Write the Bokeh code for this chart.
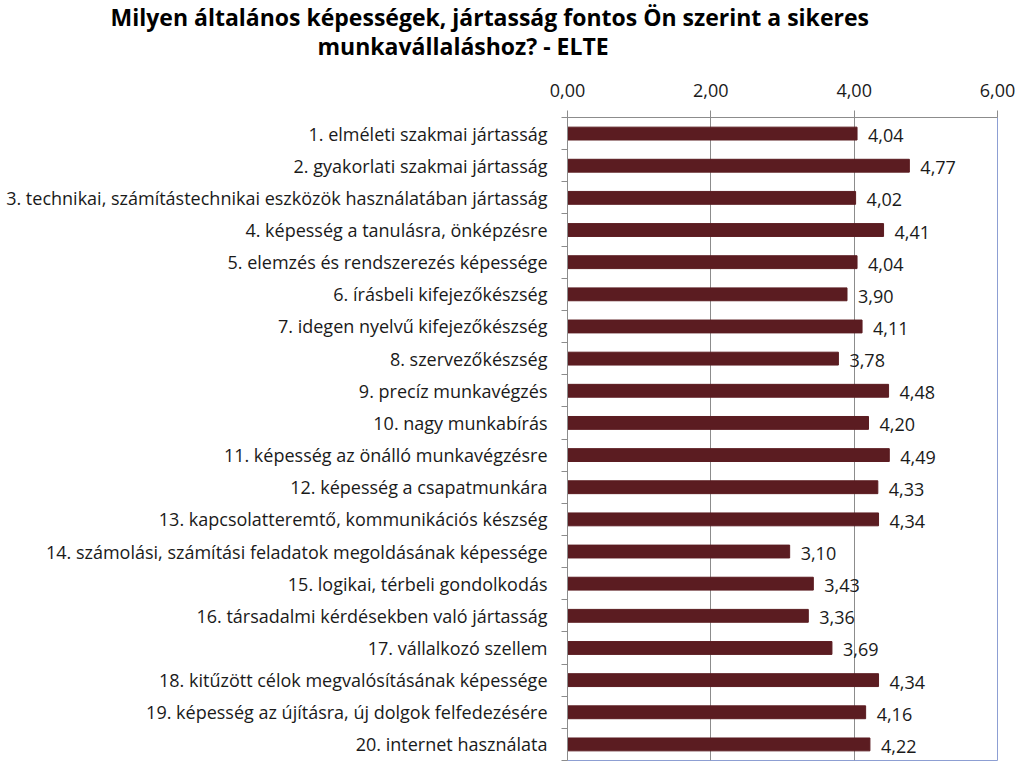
from bokeh.plotting import figure
from bokeh.models import Range1d, FixedTicker, LinearAxis, Title, ColumnDataSource
from bokeh.core.properties import value
from bokeh.embed import file_html
from bokeh.resources import INLINE

title_line1 = "Milyen általános  képességek, jártasság fontos Ön szerint a sikeres"
title_line2 = "munkavállaláshoz?  - ELTE"

categories = [
    "1. elméleti szakmai jártasság",
    "2. gyakorlati szakmai jártasság",
    "3. technikai, számítástechnikai eszközök használatában jártasság",
    "4. képesség a tanulásra, önképzésre",
    "5. elemzés és rendszerezés képessége",
    "6. írásbeli kifejezőkészség",
    "7. idegen nyelvű kifejezőkészség",
    "8. szervezőkészség",
    "9. precíz munkavégzés",
    "10. nagy munkabírás",
    "11. képesség az önálló munkavégzésre",
    "12. képesség a csapatmunkára",
    "13. kapcsolatteremtő, kommunikációs készség",
    "14. számolási, számítási feladatok megoldásának képessége",
    "15. logikai, térbeli gondolkodás",
    "16. társadalmi kérdésekben való jártasság",
    "17. vállalkozó szellem",
    "18. kitűzött célok megvalósításának képessége",
    "19. képesség az újításra, új dolgok felfedezésére",
    "20. internet használata",
]
values = [4.04, 4.77, 4.02, 4.41, 4.04, 3.90, 4.11, 3.78, 4.48, 4.20,
          4.49, 4.33, 4.34, 3.10, 3.43, 3.36, 3.69, 4.34, 4.16, 4.22]
x_ticks = [0, 2, 4, 6]
x_tick_labels = ["0,00", "2,00", "4,00", "6,00"]

FONT = "Open Sans"
BAR = "#5b1c21"
TXT = "#1a1a1a"

n = len(categories)
pos = list(range(1, n + 1))
src = ColumnDataSource(dict(
    y=pos,
    v=values,
    lab=[f"{v:.2f}".replace(".", ",") for v in values],
))

p = figure(width=1024, height=769, output_backend="svg", toolbar_location=None,
           x_range=Range1d(0, 6), y_range=Range1d(n + 0.5, 0.5),
           x_axis_location=None, y_axis_location=None,
           min_border_left=567, min_border_right=27,
           min_border_top=117, min_border_bottom=9)
p.background_fill_color = "white"
p.border_fill_color = "white"
p.outline_line_color = "#8d9fd3"
p.outline_line_width = 1

# gridlines
p.xgrid.ticker = FixedTicker(ticks=x_ticks)
p.xgrid.grid_line_color = "#8c8c8c"
p.ygrid.grid_line_color = None

# top axis
ax_top = LinearAxis(ticker=FixedTicker(ticks=x_ticks))
ax_top.major_label_overrides = {t: l for t, l in zip(x_ticks, x_tick_labels)}
ax_top.axis_line_color = "#8c8c8c"
ax_top.major_tick_line_color = "#8c8c8c"
ax_top.major_tick_out = 7
ax_top.major_tick_in = 0
ax_top.minor_tick_out = 0
ax_top.minor_tick_in = 0
ax_top.major_label_text_font = FONT
ax_top.major_label_text_font_size = "18px"
ax_top.major_label_text_color = TXT
ax_top.major_label_standoff = 14
p.add_layout(ax_top, "above")

# left axis with category labels, ticks at category boundaries
ax_left = LinearAxis(ticker=FixedTicker(ticks=pos, minor_ticks=[i + 0.5 for i in range(n + 1)]))
ax_left.major_label_overrides = {i: c for i, c in zip(pos, categories)}
ax_left.axis_line_color = "#8c8c8c"
ax_left.major_tick_out = 0
ax_left.major_tick_in = 0
ax_left.minor_tick_line_color = "#8c8c8c"
ax_left.minor_tick_out = 6
ax_left.minor_tick_in = 0
ax_left.major_label_text_font = FONT
ax_left.major_label_text_font_size = "18px"
ax_left.major_label_text_color = TXT
ax_left.major_label_standoff = 14
p.add_layout(ax_left, "left")

p.hbar(y="y", left=0, right="v", height=0.4, source=src,
       fill_color=BAR, line_color=BAR)

p.text(x="v", y="y", text="lab", source=src, x_offset=11, y_offset=2,
       text_align="left", text_baseline="middle",
       text_font=value(FONT), text_font_size="18px", text_color=TXT)

t2 = Title(text=title_line2, align="left", offset=-250, standoff=38,
           text_font=FONT, text_font_size="23px", text_font_style="bold",
           text_color="black")
t1 = Title(text=title_line1, align="left", offset=-457, standoff=-49,
           text_font=FONT, text_font_size="23px", text_font_style="bold",
           text_color="black")
p.add_layout(t2, "above")
p.add_layout(t1, "above")

open("out.html", "w").write(file_html(p, INLINE))
